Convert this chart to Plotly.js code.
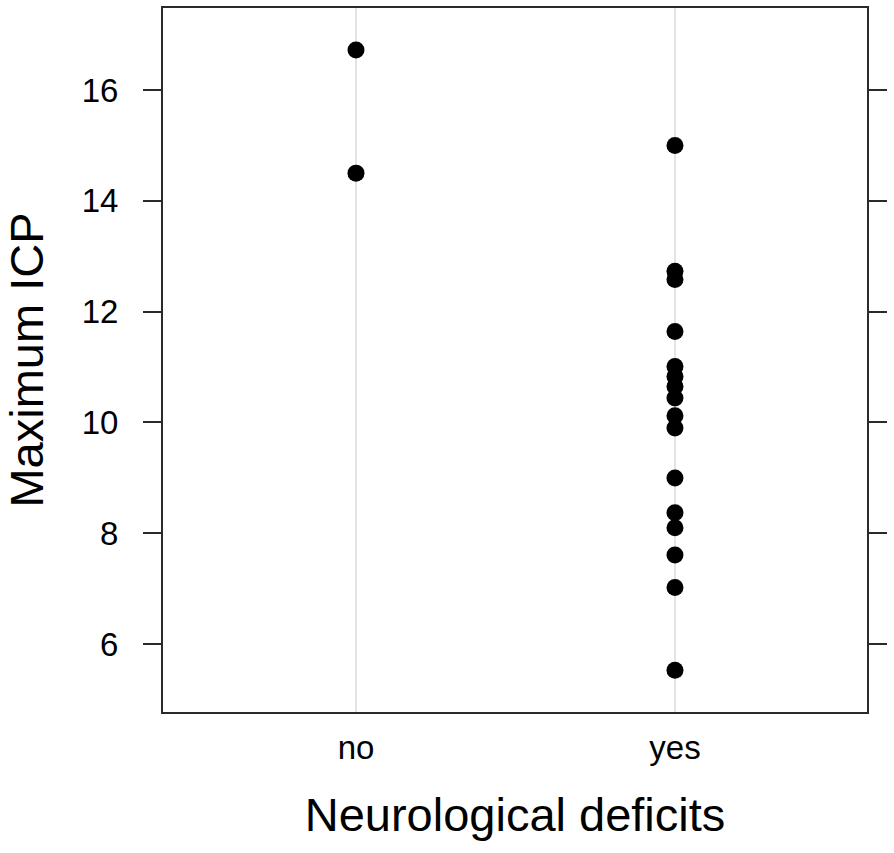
<!DOCTYPE html>
<html>
<head>
<meta charset="utf-8">
<script src="https://cdn.plot.ly/plotly-3.0.1.min.js"></script>
<style>
  html, body { margin: 0; padding: 0; background: #fff; }
  #plot { width: 894px; height: 853px; }
</style>
</head>
<body>
<div id="plot"></div>
<script>
// maximum ICP by neurological deficit group
var groups = ['no', 'yes'];
var icpNo = [16.72, 14.5];
var icpYes = [15.0, 12.73, 12.58, 11.64, 11.01, 10.83, 10.65, 10.44, 10.12,
              9.9, 9.0, 8.37, 8.1, 7.61, 7.02, 5.53];
var yTicks = [6, 8, 10, 12, 14, 16];

var xs = icpNo.map(function () { return groups[0]; })
  .concat(icpYes.map(function () { return groups[1]; }));
var ys = icpNo.concat(icpYes);

var trace = {
  x: xs,
  y: ys,
  type: 'scatter',
  mode: 'markers',
  marker: {color: '#000', size: 17},
  hoverinfo: 'none'
};

var font = 'Liberation Sans, Arial, Helvetica, sans-serif';

var layout = {
  width: 894,
  height: 853,
  margin: {l: 163, r: 27, t: 8, b: 141},
  paper_bgcolor: '#fff',
  plot_bgcolor: '#fff',
  showlegend: false,
  font: {family: font, color: '#000'},
  xaxis: {
    type: 'category',
    categoryorder: 'array',
    categoryarray: groups,
    range: [-0.605, 1.602],
    showgrid: true,
    gridcolor: '#e4e4e4',
    gridwidth: 1.5,
    zeroline: false,
    showline: true,
    linecolor: '#2a2a2a',
    linewidth: 2,
    mirror: true,
    ticks: '',
    ticklabelstandoff: 5,
    tickfont: {size: 33, family: font},
    title: {text: 'Neurological deficits', font: {size: 47, family: font}, standoff: 34}
  },
  yaxis: {
    range: [4.775, 17.48],
    tickvals: yTicks,
    ticktext: yTicks.map(String),
    showgrid: false,
    zeroline: false,
    showline: true,
    linecolor: '#2a2a2a',
    linewidth: 2,
    mirror: 'allticks',
    ticks: 'outside',
    ticklen: 18,
    tickwidth: 2,
    tickcolor: '#2a2a2a',
    ticklabelstandoff: 18,
    tickfont: {size: 33, family: font},
    title: {text: 'Maximum ICP', font: {size: 47, family: font}, standoff: 30}
  }
};

Plotly.newPlot('plot', [trace], layout, {displayModeBar: false, staticPlot: true});
</script>
</body>
</html>
